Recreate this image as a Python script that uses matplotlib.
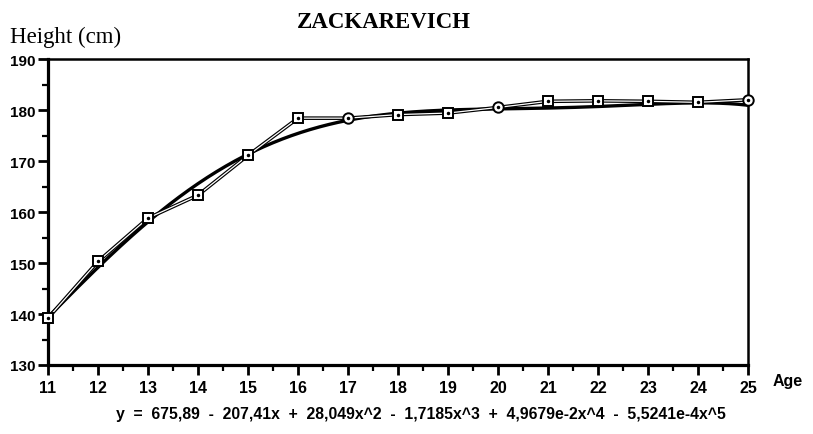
import numpy as np
import matplotlib
matplotlib.use("Agg")
import matplotlib.pyplot as plt
from matplotlib.ticker import MultipleLocator

ages = [11, 12, 13, 14, 15, 16, 17, 18, 19, 20, 21, 22, 23, 24, 25]
heights = [139.2, 150.3, 158.8, 163.3, 171.1, 178.4, 178.4, 179.1, 179.4,
           180.5, 181.7, 181.8, 181.7, 181.5, 182.0]
# marker shape per point, as seen on the scan
shapes = ["s", "s", "s", "s", "s", "s", "o", "s", "s", "o", "s", "s", "s", "s", "o"]
y_ticks = [130, 140, 150, 160, 170, 180, 190]

# 5th degree fit printed under the chart (constant term first)
fit_coefs = [675.89, -207.41, 28.049, -1.7185, 4.9679e-2, -5.5241e-4]
equation = ("y  =  675,89  -  207,41x  +  28,049x^2  -  1,7185x^3  +  "
            "4,9679e-2x^4  -  5,5241e-4x^5")

W, H = 813, 435
fig = plt.figure(figsize=(W / 100, H / 100), dpi=100)
fig.patch.set_facecolor("white")

def px(x, y):
    return x / W, 1 - y / H

l, t = px(48, 60)
r, b = px(748, 366)
ax = fig.add_axes([l, b, r - l, t - b])

# polynomial fit curve
xf = np.linspace(ages[0], ages[-1], 300)
yf = np.polynomial.polynomial.polyval(xf, fit_coefs)
ax.plot(xf, yf, color="black", lw=2.4, zorder=2, solid_capstyle="round")

# data line drawn hollow, like the scan
ax.plot(ages, heights, color="black", lw=2.6, zorder=3)
ax.plot(ages, heights, color="white", lw=0.9, zorder=4)
for a, h, m in zip(ages, heights, shapes):
    ax.plot(a, h, marker=m, ms=7.5 if m == "o" else 6.5, mfc="white",
            mec="black", mew=1.4, zorder=5, clip_on=False)
    ax.plot(a, h, marker=".", ms=3, color="black", zorder=6, clip_on=False)

ax.set_xlim(11, 25)
ax.set_ylim(130, 190)
ax.xaxis.set_major_locator(MultipleLocator(1))
ax.xaxis.set_minor_locator(MultipleLocator(0.5))
ax.yaxis.set_minor_locator(MultipleLocator(5))

for side in ["left", "bottom"]:
    ax.spines[side].set_linewidth(2.3)
for side in ["top", "right"]:
    ax.spines[side].set_linewidth(1.8)

ax.tick_params(which="major", direction="out", length=7, width=2, color="black")
ax.tick_params(which="minor", direction="out", length=4, width=1.6, color="black")
ax.tick_params(axis="y", which="major", pad=2)
ax.tick_params(axis="x", which="major", pad=4)

ax.set_yticks(y_ticks)
ax.set_yticklabels([str(v) for v in y_ticks], fontfamily="Liberation Sans",
                   fontweight="bold", fontsize=11)
ax.set_xticks(ages)
ax.set_xticklabels([str(a) for a in ages], fontfamily="Liberation Sans",
                   fontweight="bold", fontsize=11.5)

fig.text(*px(384, 22), "ZACKAREVICH", ha="center", va="center",
         fontfamily="Liberation Serif", fontweight="bold", fontsize=16.5)
fig.text(*px(10, 37), "Height (cm)", ha="left", va="center",
         fontfamily="Liberation Serif", fontsize=16.5)
fig.text(*px(773, 382), "Age", ha="left", va="center",
         fontfamily="Liberation Sans", fontweight="bold", fontsize=11.5)
fig.text(*px(421, 415), equation, ha="center", va="center",
         fontfamily="Liberation Sans", fontweight="bold", fontsize=11.3)

fig.savefig("out.png", dpi=100, facecolor="white")
